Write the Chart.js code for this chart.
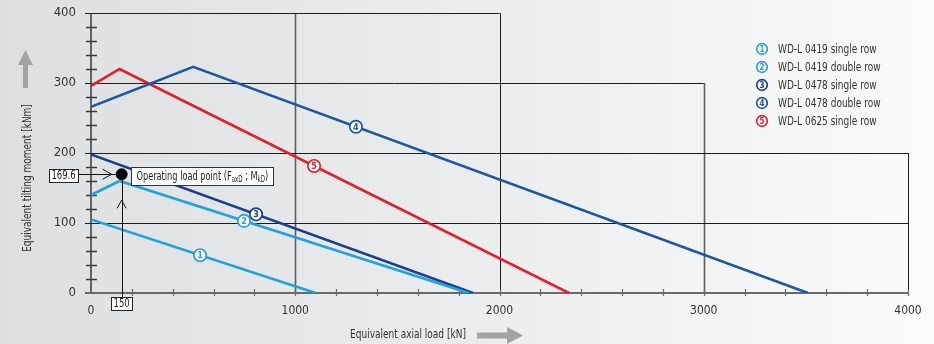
<!DOCTYPE html>
<html>
<head>
<meta charset="utf-8">
<script src="https://cdn.jsdelivr.net/npm/chart.js@4.4.1/dist/chart.umd.min.js"></script>
<style>
  html, body { margin: 0; padding: 0; }
  body {
    width: 934px; height: 344px; overflow: hidden;
    background: linear-gradient(to right, #dedfe1 0%, #ebecee 50%, #fbfbfb 100%);
  }
  #wrap { position: relative; width: 934px; height: 344px; }
</style>
</head>
<body>
<div id="wrap"><canvas id="chart" width="934" height="344"></canvas></div>
<script>
// values: [axial load kN, tilting moment kNm]
const seriesNames = ['WD-L 0419 single row', 'WD-L 0419 double row', 'WD-L 0478 single row',
                     'WD-L 0478 double row', 'WD-L 0625 single row'];
const wdl0419Single = [[0, 105], [1100, 0]];
const wdl0419Double = [[0, 140], [140, 160], [1850, 0]];
const wdl0478Single = [[0, 198], [1870, 0]];
const wdl0478Double = [[0, 266], [500, 323], [3510, 0]];
const wdl0625Single = [[0, 296], [140, 320], [2340, 0]];
// where the circled numbers sit on each curve (axial load)
const markerAt = [534, 749, 808, 1297, 1092];

const xTicks = [0, 1000, 2000, 3000, 4000];
const yTicks = [0, 100, 200, 300, 400];
const operatingPoint = [150, 169.6];

// staircase grid: [value, extends up to]
const gridRows = [[400, 2000], [300, 3000], [200, 4000], [100, 4000]];
const gridCols = [[1000, 400], [2000, 400], [3000, 300], [4000, 200]];

const seriesColors = ['#1fa2e0', '#1fa2e0', '#1b3f8e', '#1d56a6', '#e3202a'];
const FONT = "'DejaVu Sans Condensed', 'Liberation Sans', sans-serif";
const SQUEEZE = 0.8; // the original uses a condensed face
const allSeries = [wdl0419Single, wdl0419Double, wdl0478Single, wdl0478Double, wdl0625Single];

function yOnSeries(pts, xv) {
  for (let i = 0; i < pts.length - 1; i++) {
    const [x0, y0] = pts[i], [x1, y1] = pts[i + 1];
    if (xv >= x0 && xv <= x1) return y0 + (y1 - y0) * (xv - x0) / (x1 - x0);
  }
  return 0;
}

function text(ctx, str, x, y, size, align, color, rot, sq = SQUEEZE) {
  ctx.save();
  ctx.translate(x, y);
  if (rot) ctx.rotate(rot);
  ctx.scale(sq, 1);
  ctx.font = `${size}px ${FONT}`;
  ctx.fillStyle = color || '#333';
  ctx.textAlign = align || 'left';
  ctx.textBaseline = 'middle';
  ctx.fillText(str, 0, 0);
  ctx.restore();
}

function textWidth(ctx, str, size, sq = SQUEEZE) {
  ctx.font = `${size}px ${FONT}`;
  return ctx.measureText(str).width * sq;
}

function circledNumber(ctx, cx, cy, r, n, color) {
  ctx.beginPath();
  ctx.arc(cx, cy, r, 0, Math.PI * 2);
  ctx.fillStyle = '#fff';
  ctx.fill();
  ctx.lineWidth = 1.7;
  ctx.strokeStyle = color;
  ctx.stroke();
  ctx.fillStyle = color;
  ctx.font = `bold ${Math.round(r * 1.5)}px ${FONT}`;
  ctx.textAlign = 'center';
  ctx.textBaseline = 'middle';
  ctx.fillText(String(n), cx, cy + 0.5);
}

function line(ctx, x0, y0, x1, y1) {
  ctx.beginPath();
  ctx.moveTo(x0, y0);
  ctx.lineTo(x1, y1);
  ctx.stroke();
}

const gridPlugin = {
  id: 'staircaseGrid',
  beforeDatasetsDraw(chart) {
    const { ctx, scales: { x, y } } = chart;
    const x0 = x.getPixelForValue(0), y0 = y.getPixelForValue(0);
    ctx.save();

    // vertical grid lines
    gridCols.forEach(([v, top]) => {
      const px = Math.round(x.getPixelForValue(v)) + 0.5;
      const gray = v % 2000 !== 0;
      ctx.strokeStyle = gray ? '#5e5e5e' : '#1c1c1c';
      ctx.lineWidth = gray ? 1.6 : 1;
      line(ctx, px, y0, px, y.getPixelForValue(top));
    });
    // horizontal grid lines
    ctx.strokeStyle = '#1c1c1c';
    ctx.lineWidth = 1;
    gridRows.forEach(([v, right]) => {
      const py = Math.round(y.getPixelForValue(v)) + 0.5;
      line(ctx, x0 - 6, py, x.getPixelForValue(right), py);
    });

    // y axis with minor ticks every 20
    ctx.strokeStyle = '#3a3a3a';
    ctx.lineWidth = 1.5;
    line(ctx, x0, y0, x0, y.getPixelForValue(400));
    for (let v = 20; v < 400; v += 20) {
      if (v % 100 === 0) continue;
      const py = Math.round(y.getPixelForValue(v)) + 0.5;
      line(ctx, x0 - 5, py, x0 + 6, py);
    }
    // x axis with minor ticks every 200
    ctx.strokeStyle = '#6a6a6a';
    ctx.lineWidth = 2;
    line(ctx, x0 - 6, y0, x.getPixelForValue(4000), y0);
    ctx.lineWidth = 1.2;
    for (let v = 200; v <= 4000; v += 200) {
      const px = Math.round(x.getPixelForValue(v)) + 0.5;
      line(ctx, px, y0 - 4, px, y0 + 3);
    }
    ctx.restore();
  },
  afterDatasetsDraw(chart) {
    const { ctx, scales: { x, y } } = chart;
    ctx.save();

    // circled numbers on the curves
    allSeries.forEach((pts, i) => {
      const xv = markerAt[i];
      circledNumber(ctx, x.getPixelForValue(xv), y.getPixelForValue(yOnSeries(pts, xv)), 6.2, i + 1, seriesColors[i]);
    });

    // legend
    seriesNames.forEach((name, i) => {
      const ly = 49 + i * 18;
      circledNumber(ctx, 762, ly, 5.3, i + 1, seriesColors[i]);
      text(ctx, name, 778, ly + 0.5, 12.5, 'left', '#333');
    });

    // operating load point annotation
    const [ox, oy] = operatingPoint;
    const px = x.getPixelForValue(ox), py = y.getPixelForValue(oy);
    const y0 = y.getPixelForValue(0);
    ctx.strokeStyle = '#111';
    ctx.lineWidth = 1;

    // horizontal arrow from the 169.6 box
    const boxR = 77;
    line(ctx, boxR, Math.round(py) + 0.5, px - 6, Math.round(py) + 0.5);
    ctx.beginPath();
    ctx.moveTo(px - 19, py - 5);
    ctx.lineTo(px - 10, py);
    ctx.lineTo(px - 19, py + 5);
    ctx.stroke();
    // vertical arrow from the 150 box
    line(ctx, Math.round(px) + 0.5, y0 + 5, Math.round(px) + 0.5, py + 6);
    ctx.beginPath();
    ctx.moveTo(px - 4.5, py + 34);
    ctx.lineTo(px, py + 26);
    ctx.lineTo(px + 4.5, py + 34);
    ctx.stroke();

    function valueBox(str, cx, cy) {
      const w = Math.round(textWidth(ctx, str, 12, 0.78) + 5);
      const bx = Math.round(cx - w / 2) + 0.5, by = Math.round(cy - 6.5) + 0.5;
      ctx.fillStyle = '#fff';
      ctx.fillRect(bx, by, w, 13);
      ctx.strokeStyle = '#222';
      ctx.strokeRect(bx, by, w, 13);
      text(ctx, str, cx, cy + 0.5, 12, 'center', '#222', 0, 0.78);
    }
    valueBox(String(oy), boxR - 13.5, py + 1);
    valueBox(String(ox), px, y0 + 10);

    // label box
    const sq = 0.76;
    const parts = [['Operating load point (F', 12, 0], ['axD', 8, 2.5], [' ; M', 12, 0], ['kD', 8, 2.5], [')', 12, 0]];
    let tw = 0;
    parts.forEach(([t, s]) => { tw += textWidth(ctx, t, s, sq); });
    const bx = Math.round(px + 9) + 0.5, bw = Math.round(tw + 10), bh = 18, by = Math.round(py - 7.5) + 0.5;
    ctx.fillStyle = '#fff';
    ctx.fillRect(bx, by, bw, bh);
    ctx.strokeStyle = '#333';
    ctx.strokeRect(bx, by, bw, bh);
    let tx = bx + 5;
    parts.forEach(([t, s, dy]) => {
      text(ctx, t, tx, by + 9.5 + dy, s, 'left', '#222', 0, sq);
      tx += textWidth(ctx, t, s, sq);
    });

    // axis titles with gray arrows
    text(ctx, 'Equivalent axial load [kN]', 408, 335, 12.5, 'center', '#333');
    text(ctx, 'Equivalent tilting moment [kNm]', 28, 178, 12.5, 'center', '#333', -Math.PI / 2);

    ctx.fillStyle = '#a3a3a3';
    ctx.beginPath();
    ctx.moveTo(477, 332.5); ctx.lineTo(507, 332.5); ctx.lineTo(507, 327);
    ctx.lineTo(523, 335.5); ctx.lineTo(507, 344); ctx.lineTo(507, 338.5);
    ctx.lineTo(477, 338.5); ctx.closePath(); ctx.fill();
    ctx.beginPath();
    ctx.moveTo(23, 88); ctx.lineTo(23, 65); ctx.lineTo(18, 65);
    ctx.lineTo(25.5, 50); ctx.lineTo(33, 65); ctx.lineTo(28, 65);
    ctx.lineTo(28, 88); ctx.closePath(); ctx.fill();

    ctx.restore();
  }
};

const datasets = allSeries.map((pts, i) => ({
  label: seriesNames[i],
  data: pts.map(([a, b]) => ({ x: a, y: b })),
  borderColor: seriesColors[i],
  borderWidth: 2.6,
  pointRadius: 0,
  tension: 0,
  fill: false
}));
datasets.push({
  type: 'scatter',
  label: 'Operating load point',
  data: [{ x: operatingPoint[0], y: operatingPoint[1] }],
  pointRadius: 5.5,
  pointBackgroundColor: '#000',
  pointBorderColor: '#000',
  showLine: false
});

new Chart(document.getElementById('chart'), {
  type: 'line',
  data: { datasets },
  options: {
    responsive: false,
    animation: false,
    layout: { padding: { left: 0, right: 26, top: 13, bottom: 0 } },
    plugins: { legend: { display: false }, tooltip: { enabled: false } },
    scales: {
      x: {
        type: 'linear', min: 0, max: 4000,
        afterBuildTicks: s => { s.ticks = xTicks.map(v => ({ value: v })); },
        afterFit: s => { s.height = 51; s.paddingLeft = 0; s.paddingRight = 0; },
        grid: { display: false, drawTicks: false },
        border: { display: false },
        ticks: { padding: 11, color: '#333', font: { family: FONT, size: 12 }, maxRotation: 0,
                 callback: v => String(v) }
      },
      y: {
        min: 0, max: 400,
        afterBuildTicks: s => { s.ticks = yTicks.map(v => ({ value: v })); },
        afterFit: s => { s.width = 91; s.paddingTop = 0; s.paddingBottom = 0; },
        grid: { display: false, drawTicks: false },
        border: { display: false },
        ticks: { padding: 15, color: '#333', font: { family: FONT, size: 13 },
                 callback: v => String(v) }
      }
    }
  },
  plugins: [gridPlugin]
});
</script>
</body>
</html>
